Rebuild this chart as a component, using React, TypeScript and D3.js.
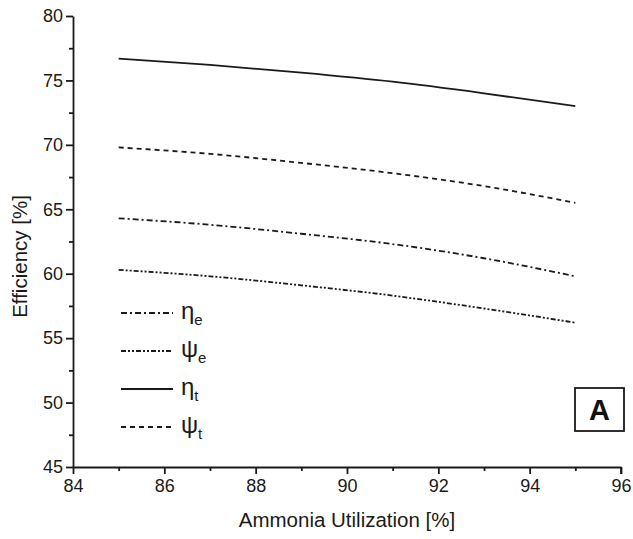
import React, { useEffect, useRef } from "react";
import * as d3 from "d3";

const utilization = [85, 87, 89, 91, 93, 95];
const etaT = [76.7, 76.2, 75.6, 74.9, 74.0, 73.0];
const psiT = [69.8, 69.3, 68.6, 67.8, 66.8, 65.5];
const etaE = [64.3, 63.8, 63.1, 62.3, 61.2, 59.8];
const psiE = [60.3, 59.8, 59.1, 58.3, 57.3, 56.2];

const xTicks = [84, 86, 88, 90, 92, 94, 96];
const yTicks = [45, 50, 55, 60, 65, 70, 75, 80];

const series = [
  { sym: "η", sub: "e", values: etaE, dash: "6,3,2,3" },
  { sym: "ψ", sub: "e", values: psiE, dash: "5,2,2,2,2,2" },
  { sym: "η", sub: "t", values: etaT, dash: "" },
  { sym: "ψ", sub: "t", values: psiT, dash: "5,4" },
];

const W = 633;
const H = 539;
const margin = { left: 73, right: 12, top: 16, bottom: 72 };

const App = () => {
  const ref = useRef<SVGSVGElement | null>(null);

  useEffect(() => {
    if (!ref.current) return;
    const svg = d3.select(ref.current);
    svg.selectAll("*").remove();

    const x = d3.scaleLinear().domain([84, 96]).range([margin.left, W - margin.right]);
    const y = d3.scaleLinear().domain([45, 80]).range([H - margin.bottom, margin.top]);
    const font = "'Liberation Sans', Arial, sans-serif";
    const ink = "#1a1a1a";

    // axes
    const xAxis = svg
      .append("g")
      .attr("transform", `translate(0,${y(45)})`)
      .call(d3.axisBottom(x).tickValues(xTicks).tickSize(7).tickSizeOuter(0).tickPadding(5));
    svg
      .append("g")
      .attr("transform", `translate(0,${y(45)})`)
      .call(d3.axisBottom(x).tickValues([85, 87, 89, 91, 93, 95]).tickSize(4).tickFormat(() => ""))
      .select(".domain")
      .remove();
    const yAxis = svg
      .append("g")
      .attr("transform", `translate(${x(84)},0)`)
      .call(d3.axisLeft(y).tickValues(yTicks).tickSize(7).tickSizeOuter(0).tickPadding(3));
    svg
      .append("g")
      .attr("transform", `translate(${x(84)},0)`)
      .call(d3.axisLeft(y).tickValues([47.5, 52.5, 57.5, 62.5, 67.5, 72.5, 77.5]).tickSize(4).tickFormat(() => ""))
      .select(".domain")
      .remove();

    [xAxis, yAxis].forEach((g) => {
      g.selectAll("text").attr("font-family", font).attr("font-size", 18).attr("fill", ink);
      g.selectAll("path").attr("stroke", ink).attr("stroke-width", 1.8);
    });
    svg.selectAll("g line").attr("stroke", ink).attr("stroke-width", 1.8);

    // right end tick of x axis
    svg
      .append("line")
      .attr("x1", x(96))
      .attr("x2", x(96))
      .attr("y1", y(45))
      .attr("y2", y(45) + 7)
      .attr("stroke", ink)
      .attr("stroke-width", 1.8);

    // titles
    svg
      .append("text")
      .attr("x", (x(84) + x(96)) / 2)
      .attr("y", H - 12)
      .attr("text-anchor", "middle")
      .attr("font-family", font)
      .attr("font-size", 20.5)
      .attr("fill", ink)
      .text("Ammonia Utilization [%]");
    svg
      .append("text")
      .attr("transform", `translate(27,${(y(45) + y(80)) / 2 + 15}) rotate(-90)`)
      .attr("text-anchor", "middle")
      .attr("font-family", font)
      .attr("font-size", 20.5)
      .attr("fill", ink)
      .text("Efficiency [%]");

    // lines
    const line = d3
      .line<number>()
      .x((_, i) => x(utilization[i]))
      .y((d) => y(d))
      .curve(d3.curveMonotoneX);

    series.forEach((s) => {
      svg
        .append("path")
        .attr("d", line(s.values))
        .attr("fill", "none")
        .attr("stroke", ink)
        .attr("stroke-width", 1.8)
        .attr("stroke-dasharray", s.dash);
    });

    // legend
    const legend = svg.append("g");
    series.forEach((s, i) => {
      const ly = 313 + i * 38;
      legend
        .append("line")
        .attr("x1", 121)
        .attr("x2", 173)
        .attr("y1", ly)
        .attr("y2", ly)
        .attr("stroke", ink)
        .attr("stroke-width", 1.8)
        .attr("stroke-dasharray", s.dash);
      const t = legend
        .append("text")
        .attr("x", 181)
        .attr("y", ly + 6)
        .attr("font-family", font)
        .attr("font-size", 24)
        .attr("fill", ink);
      t.append("tspan").text(s.sym);
      t.append("tspan").attr("font-size", 15).attr("dy", 6).text(s.sub);
    });

    // panel label
    svg
      .append("rect")
      .attr("x", 575)
      .attr("y", 388)
      .attr("width", 49)
      .attr("height", 43)
      .attr("fill", "white")
      .attr("stroke", ink)
      .attr("stroke-width", 1.8);
    svg
      .append("text")
      .attr("x", 599.5)
      .attr("y", 420)
      .attr("text-anchor", "middle")
      .attr("font-family", font)
      .attr("font-weight", "bold")
      .attr("font-size", 29)
      .attr("fill", "#111")
      .text("A");
  }, []);

  return (
    <svg
      ref={ref}
      width={W}
      height={H}
      style={{ position: "absolute", left: 0, top: 0, background: "white" }}
    />
  );
};

export default App;
